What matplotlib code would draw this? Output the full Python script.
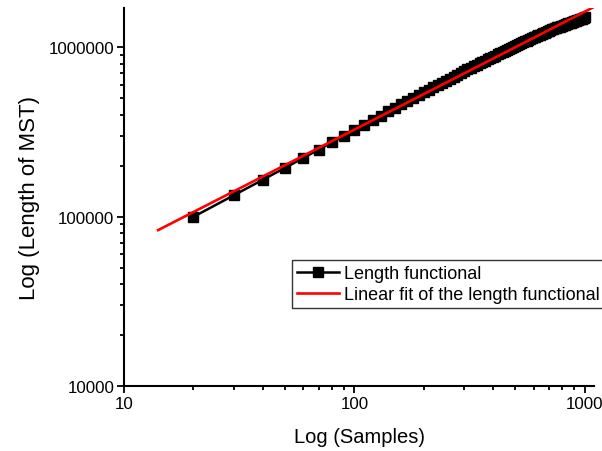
import numpy as np
import matplotlib
matplotlib.use('Agg')
import matplotlib.pyplot as plt
from matplotlib.ticker import FixedLocator, LogLocator, NullFormatter, FuncFormatter

plt.rcParams['font.family'] = ['Liberation Sans', 'DejaVu Sans']

# -- data (samples vs. MST length) --
samples = list(range(20, 1001, 10))
mst_length = [
    99600, 133700, 164800, 193900, 221800, 248400, 274100, 298900, 323100,
    347500, 371400, 394700, 417700, 440300, 462400, 482700, 502600, 522200,
    541400, 560400, 579100, 597700, 616000, 633900, 652000, 669600, 687100,
    704200, 721300, 738300, 754600, 770400, 786300, 801700, 817200, 832200,
    847500, 862500, 877500, 892000, 906300, 920900, 935400, 949500, 963800,
    977900, 992000, 1005800, 1019500, 1032300, 1044500, 1057100, 1069100,
    1081200, 1093200, 1105100, 1116900, 1128800, 1140500, 1151900, 1163600,
    1174900, 1186600, 1198100, 1208900, 1220400, 1231700, 1242500, 1253700,
    1264100, 1272900, 1281400, 1290300, 1298900, 1307300, 1315800, 1324300,
    1332600, 1341200, 1349300, 1357400, 1365900, 1373800, 1381700, 1389700,
    1397700, 1405800, 1413600, 1421400, 1428900, 1436900, 1444500, 1452100,
    1459900, 1467300, 1474700, 1482500, 1489700, 1497300,
]

# linear fit (straight line in log-log), end points
fit_x = [14.06, 1100]
fit_y = [83200, 1730000]

x_ticks = [10, 100, 1000]
y_ticks = [10000, 100000, 1000000]

fig = plt.figure(figsize=(6.02, 4.52), dpi=100)
ax = fig.add_axes([0.206, 0.1438, 0.781, 0.836])

ax.plot(samples, mst_length, color='black', linewidth=1.8, marker='s',
        markersize=6.5, label='Length functional')
ax.plot(fit_x, fit_y, color='red', linewidth=1.9,
        label='Linear fit of the length functional')

ax.set_xscale('log')
ax.set_yscale('log')
ax.set_xlim(10, 1100)
ax.set_ylim(10000, 1700000)

ax.xaxis.set_major_locator(FixedLocator(x_ticks))
ax.yaxis.set_major_locator(FixedLocator(y_ticks))
ax.xaxis.set_minor_locator(LogLocator(base=10, subs=np.arange(2, 10)))
ax.yaxis.set_minor_locator(LogLocator(base=10, subs=np.arange(2, 10)))
ax.xaxis.set_major_formatter(FuncFormatter(lambda v, p: '%d' % v))
ax.yaxis.set_major_formatter(FuncFormatter(lambda v, p: '%d' % v))
ax.xaxis.set_minor_formatter(NullFormatter())
ax.yaxis.set_minor_formatter(NullFormatter())

for side in ['top', 'right']:
    ax.spines[side].set_visible(False)
for side in ['left', 'bottom']:
    ax.spines[side].set_linewidth(1.5)

ax.tick_params(which='major', direction='out', length=5, width=1.3,
               labelsize=12.2, pad=2)
ax.tick_params(which='minor', direction='out', length=3, width=1.3)

ax.set_xlabel('Log (Samples)', fontsize=14.5, labelpad=12)
ax.set_ylabel('Log (Length of MST)', fontsize=16, labelpad=6)

leg = ax.legend(loc='upper left', bbox_to_anchor=(292/602, 1 - 261/452),
                bbox_transform=fig.transFigure, fontsize=13, frameon=True,
                fancybox=False, handlelength=2.3, handletextpad=0.3,
                labelspacing=0.2, borderpad=0.3, borderaxespad=0)
leg.get_frame().set_edgecolor('black')
leg.get_frame().set_linewidth(1.0)

fig.savefig('out.png', dpi=100)
